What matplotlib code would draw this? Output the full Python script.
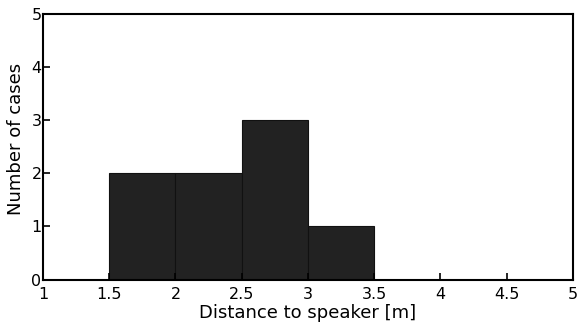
import matplotlib
matplotlib.use("Agg")
import matplotlib.pyplot as plt

# histogram bins (left edges) and counts
bin_edges = [1.5, 2.0, 2.5, 3.0]
bin_width = 0.5
counts = [2, 2, 3, 1]
xticks = [1, 1.5, 2, 2.5, 3, 3.5, 4, 4.5, 5]
yticks = [0, 1, 2, 3, 4, 5]

plt.rcParams['font.family'] = ['DejaVu Sans']

fig = plt.figure(figsize=(5.81, 3.27), dpi=100)
ax = fig.add_axes([0.074, 0.145, 0.912, 0.812])

ax.bar(bin_edges, counts, width=bin_width, align='edge',
       color='#222222', edgecolor='#111111', linewidth=0.8)

ax.set_xlim(1, 5)
ax.set_ylim(0, 5)
ax.set_xticks(xticks)
ax.set_xticklabels([f"{t:g}" for t in xticks])
ax.set_yticks(yticks)
ax.tick_params(direction='in', length=5, width=1.2, labelsize=11.5)
ax.tick_params(axis='x', pad=5)
ax.tick_params(axis='y', pad=1)
for s in ax.spines.values():
    s.set_linewidth(1.5)

ax.set_xlabel("Distance to speaker [m]", fontsize=13, labelpad=2)
ax.set_ylabel("Number of cases", fontsize=13)
ax.yaxis.set_label_coords(-0.034, 0.53)

fig.savefig("out.png", dpi=100)
